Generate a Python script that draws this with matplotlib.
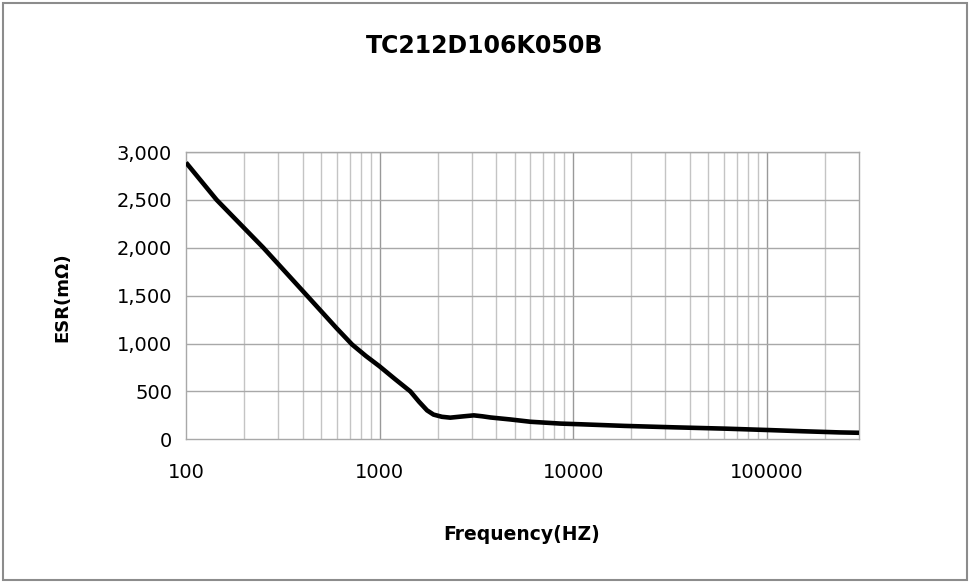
import numpy as np
import matplotlib
matplotlib.use("Agg")
import matplotlib.pyplot as plt
from matplotlib.patches import Rectangle
from matplotlib.ticker import FixedLocator, FuncFormatter, NullFormatter

# frequency (Hz) and ESR (mOhm)
freq = [100, 144, 251, 422, 600, 721, 850, 1000, 1200, 1443, 1600, 1760, 1900,
        2100, 2320, 2720, 3070, 3400, 3740, 4750, 6030, 8630, 10900, 18400,
        33300, 61700, 101000, 154000, 238000, 300000]
esr = [2890, 2500, 2000, 1500, 1160, 990, 870, 762, 630, 500, 392, 302, 258,
       235, 226, 240, 250, 240, 228, 207, 183, 164, 157, 140,
       125, 111, 97, 84, 72, 68]

title = "TC212D106K050B"
xlab = "Frequency(HZ)"
ylab = "ESR(m\u03a9)"
yticks = [0, 500, 1000, 1500, 2000, 2500, 3000]
xmajor = [100, 1000, 10000, 100000]

fig = plt.figure(figsize=(9.7, 5.83), dpi=100)
ax = fig.add_axes([186/970, 1-439.3/583, (859-186)/970, (439.3-152)/583])

# minor grid lines (2..9 of each decade)
minor = [m * d for d in [100, 1000, 10000, 100000] for m in range(2, 10)]
minor = [v for v in minor if v < 300000]
for v in minor:
    ax.axvline(v, color="#c4c4c4", lw=1.0, zorder=1)
for v in xmajor[1:]:
    ax.axvline(v, color="#999999", lw=1.0, zorder=1)
for v in yticks[1:]:
    ax.axhline(v, color="#a8a8a8", lw=1.0, zorder=1)

ax.plot(freq, esr, color="black", lw=3.3, solid_capstyle="butt",
        solid_joinstyle="round", zorder=3)

ax.set_xscale("log")
ax.set_xlim(100, 300000)
ax.set_ylim(0, 3000)
ax.xaxis.set_major_locator(FixedLocator(xmajor))
ax.xaxis.set_minor_locator(FixedLocator([]))
ax.xaxis.set_minor_formatter(NullFormatter())
ax.xaxis.set_major_formatter(FuncFormatter(lambda v, p: f"{int(round(v))}"))
ax.set_yticks(yticks)
ax.yaxis.set_major_formatter(FuncFormatter(lambda v, p: f"{int(v):,}"))
ax.tick_params(axis="x", length=0, pad=17, labelsize=14, colors="black")
ax.tick_params(axis="y", length=0, pad=10, labelsize=14, colors="black")
for s in ax.spines.values():
    s.set_color("#a8a8a8")
    s.set_linewidth(1.0)

fig.text(485/970, 1-46/583, title, ha="center", va="center",
         fontsize=17, fontweight="bold")
fig.text(522/970, 1-535/583, xlab, ha="center", va="center",
         fontsize=13.5, fontweight="bold")
fig.text(62/970, 1-297/583, ylab, ha="center", va="center",
         rotation=90, fontsize=13, fontweight="bold")

# outer chart border
fig.patches.append(Rectangle((3/970, 3/583), 964/970, 577/583,
                             transform=fig.transFigure, fill=False,
                             edgecolor="#8c8c8c", lw=1.5))

fig.savefig("out.png", dpi=100, facecolor="white")
